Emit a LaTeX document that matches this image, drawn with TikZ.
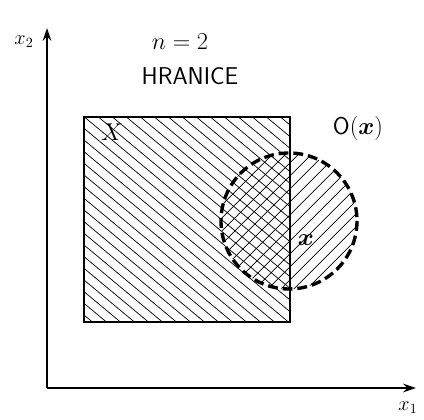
\documentclass[tikz,border=0pt]{standalone}
\usepackage{amsmath}
\usepackage{bm}
\usetikzlibrary{arrows.meta, positioning}

\tikzset{
  axisline/.style={line width=1.6pt, -{Stealth[length=9pt, width=6pt]}},
  hatchline/.style={line width=0.5pt},
  boxline/.style={line width=1.8pt},
  ballline/.style={line width=2.4pt, dash pattern=on 7pt off 3.5pt},
  lbl/.style={font=\LARGE, inner sep=1pt},
  axlbl/.style={font=\Large, inner sep=1pt}
}

\begin{document}
\begin{tikzpicture}[x=0.025cm, y=-0.025cm]
  \useasboundingbox (0,0) rectangle (424,420);

  % Axes
  \coordinate (origin) at (47,388);
  \coordinate (xend) at (416,388);
  \coordinate (yend) at (47,28);
  \draw[axisline] (origin) -- (xend);
  \draw[axisline] (origin) -- (yend);
  \node[axlbl] (xone) at (408,408) {$x_1$};
  \node[axlbl] (xtwo) at (24,42) {$x_2$};

  % Titles
  \node[lbl] (dim) at (180,42) {$n = 2$};
  \node[lbl, font=\LARGE\sffamily] (title) at (190,76) {HRANICE};

  % Set X: hatched square
  \begin{scope}
    \clip (84,117) rectangle (290,322);
    \foreach \d in {-300,-286,...,280}
      \draw[hatchline] (84+\d,100) -- (372+\d,340);
  \end{scope}

  % Neighbourhood O(x): hatched disc
  \begin{scope}
    \clip (289,221) circle (68);
    \foreach \d in {-200,-187,...,200}
      \draw[hatchline] (180+\d,330) -- (400+\d,110);
  \end{scope}

  % Outlines
  \draw[boxline] (84,117) rectangle (290,322);
  \draw[ballline] (289,221) circle (68);

  % Labels
  \node[lbl] (setX) at (112,132) {$X$};
  \node[lbl] (ball) at (358,128) {$\mathsf{O}(\bm{x})$};
  \node[lbl] (pt) at (306,240) {$\bm{x}$};
\end{tikzpicture}
\end{document}
